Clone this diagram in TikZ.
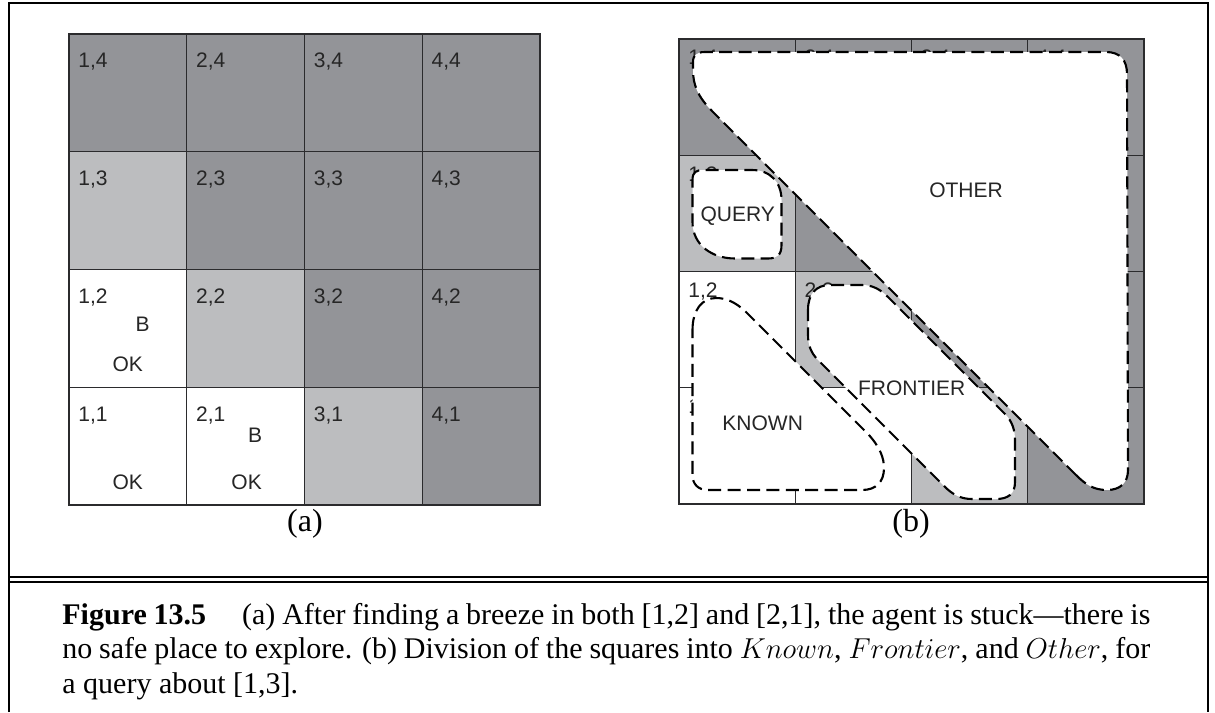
\documentclass[tikz,border=0pt]{standalone}
\usepackage{fontspec}
\setmainfont{Liberation Serif}
\newfontfamily\labelfont{Liberation Sans}
\usetikzlibrary{positioning}
\definecolor{darkcell}{HTML}{939498}
\definecolor{lightcell}{HTML}{BCBDBF}
\definecolor{gridline}{HTML}{2B2B2D}

\tikzset{
  cell/.style={draw=gridline, line width=0.65pt},
  lbl/.style={font=\labelfont\fontsize{10.5}{12}\selectfont, inner sep=0pt, text=black!85},
  blob/.style={draw=black, fill=white, dash pattern=on 6.5pt off 3.2pt, line width=1.05pt},
  frame/.style={line width=1pt},
  captext/.style={font=\fontsize{15}{17}\selectfont, inner sep=0pt},
  sublabel/.style={font=\fontsize{16}{17}\selectfont, inner sep=0pt},
}

% x0, y0, cell size
\newcommand\wumpusgrid[3]{%
  \foreach \i in {1,...,4} \foreach \j in {1,...,4} {
    \pgfmathtruncatemacro\sumij{\i+\j}
    \pgfmathsetmacro\cx{#1+(\i-1)*#3}
    \pgfmathsetmacro\cy{#2+(4-\j)*#3}
    \ifnum\sumij<4 \def\cellcol{white}\else\ifnum\sumij=4 \def\cellcol{lightcell}\else\def\cellcol{darkcell}\fi\fi
    \draw[cell, fill=\cellcol] (\cx,\cy) rectangle ++(#3,#3);
  }
  \draw[gridline, line width=1.25pt] (#1,#2) rectangle ++(4*#3,4*#3);
}

\begin{document}
\begin{tikzpicture}[x=0.5pt,y=-0.5pt]
\useasboundingbox (0,0) rectangle (1215,712);

% outer frame
\draw[frame] (9,712) -- (9,3) -- (1208,3) -- (1208,712);
\draw[frame] (9,577) -- (1208,577);
\draw[frame] (9,582) -- (1208,582);

% (a)
\wumpusgrid{69}{34}{117.75}
\foreach \i in {1,...,4} \foreach \j in {1,...,4}
  \node[lbl, anchor=west] (a-\i\j) at ({69+(\i-1)*117.75+9},{34+(4-\j)*117.75+28}) {\i,\j};
\node[lbl] (a-b12) at (142.7,324) {B};
\node[lbl] (a-ok12) at (127.7,364) {OK};
\node[lbl] (a-ok11) at (127.7,482) {OK};
\node[lbl] (a-b21) at (255,435) {B};
\node[lbl] (a-ok21) at (246.6,482) {OK};
\node[sublabel] (capa) at (305,524) {(a)};

% (b)
\wumpusgrid{679}{39}{116.25}
\foreach \i/\j in {1/4,2/4,3/4,4/4,1/3,1/2,2/2,1/1}
  \node[lbl, anchor=west] (b-\i\j) at ({679+(\i-1)*116.25+9},{39+(4-\j)*116.25+20}) {\i,\j};
\draw[blob] (1076,475) -- (712,111) .. controls (698,97) and (693,85) .. (693,70)
  -- (693,62) .. controls (693,55) and (697,52) .. (705,52) -- (1106,52)
  .. controls (1120,52) and (1127,60) .. (1127,74) -- (1128,470)
  .. controls (1128,483) and (1120,490) .. (1107,490)
  .. controls (1094,490) and (1086,485) .. (1076,475) -- cycle;
\draw[blob] (692.5,180) .. controls (692.5,172) and (696,170) .. (704,170) -- (752,170)
  .. controls (770,170) and (781.5,182) .. (781.5,200) -- (781.5,245)
  .. controls (781.5,255) and (777,258.5) .. (768,258.5) -- (735,258.5)
  .. controls (712,258.5) and (692.5,245) .. (692.5,222) -- cycle;
\draw[blob] (692.5,330) .. controls (692.5,310) and (702,298) .. (716,298)
  .. controls (726,298) and (735,302) .. (745,311) -- (868,434)
  .. controls (880,447) and (884,458) .. (884,468)
  .. controls (884,482) and (876,490) .. (862,490) -- (708,490)
  .. controls (698,490) and (692.5,484) .. (692.5,475) -- cycle;
\draw[blob] (808,310) .. controls (808,294) and (816,285) .. (830,285) -- (862,285)
  .. controls (872,285) and (880,289) .. (888,297) -- (1005,414)
  .. controls (1012,421) and (1015,430) .. (1015,440) -- (1015,482)
  .. controls (1015,494) and (1008,499) .. (996,499) -- (972,499)
  .. controls (960,499) and (952,494) .. (944,486) -- (818,360)
  .. controls (811,353) and (808,345) .. (808,335) -- cycle;
\node[lbl] (other) at (966,190.7) {OTHER};
\node[lbl] (query) at (737.7,216) {QUERY};
\node[lbl] (frontier) at (911.7,388.3) {FRONTIER};
\node[lbl] (known) at (762.7,423.3) {KNOWN};
\node[sublabel] (capb) at (911,524) {(b)};

% caption
\node[captext, anchor=base west] (cap1) at (62,624) {\makebox[544pt][s]{\textbf{Figure 13.5}\hspace{1.2em}(a) After finding a breeze in both [1,2] and [2,1], the agent is stuck—there is}};
\node[captext, anchor=base west] (cap2) at (62,658.5) {\makebox[544pt][s]{no safe place to explore. (b) Division of the squares into $Known$, $Frontier$, and $Other$, for}};
\node[captext, anchor=base west] (cap3) at (62,693) {a query about [1,3].};
\end{tikzpicture}
\end{document}
